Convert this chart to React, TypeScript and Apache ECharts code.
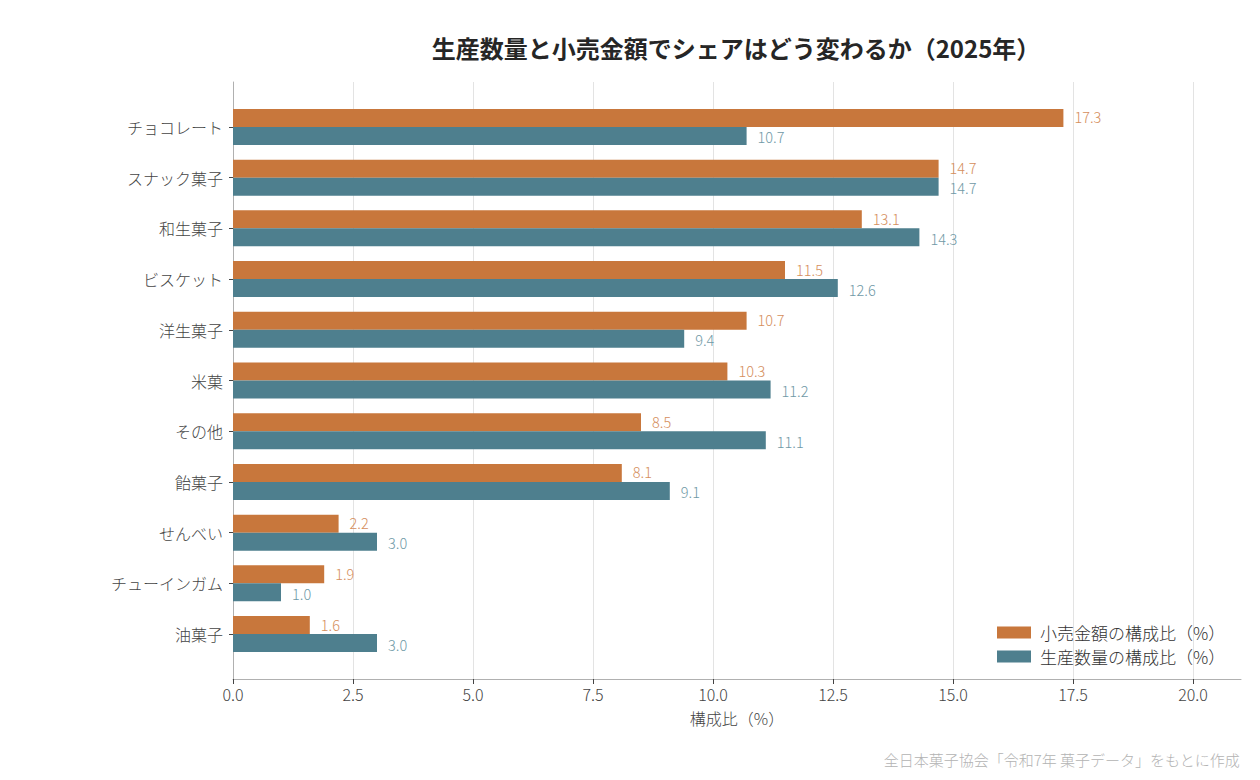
import React, { useEffect, useRef } from "react";
import * as echarts from "echarts";

const categories = [
  "チョコレート",
  "スナック菓子",
  "和生菓子",
  "ビスケット",
  "洋生菓子",
  "米菓",
  "その他",
  "飴菓子",
  "せんべい",
  "チューインガム",
  "油菓子",
];
const retailShare = [17.3, 14.7, 13.1, 11.5, 10.7, 10.3, 8.5, 8.1, 2.2, 1.9, 1.6];
const productionShare = [10.7, 14.7, 14.3, 12.6, 9.4, 11.2, 11.1, 9.1, 3.0, 1.0, 3.0];
const xTicks = [0, 2.5, 5, 7.5, 10, 12.5, 15, 17.5, 20];

const FONT = '"Noto Sans CJK JP", "Noto Sans", sans-serif';
const ORANGE = "#C8773C";
const TEAL = "#4E7F8E";

export default function App() {
  const ref = useRef<HTMLDivElement>(null);
  useEffect(() => {
    if (!ref.current) return;
    const chart = echarts.init(ref.current, null, { renderer: "svg" });
    chart.setOption({
      animation: false,
      textStyle: { fontFamily: FONT },
      title: {
        text: "生産数量と小売金額でシェアはどう変わるか（2025年）",
        left: 731,
        top: 30,
        textAlign: "center",
        textStyle: { fontFamily: FONT, fontSize: 24, fontWeight: "bold", color: "#262626" },
      },
      legend: {
        orient: "vertical",
        left: 992,
        top: 619,
        itemWidth: 34,
        itemHeight: 12,
        itemGap: 7,
        icon: "rect",
        textStyle: { fontFamily: FONT, fontSize: 17, fontWeight: 300, color: "#333", padding: [0, 0, 0, 4] },
        data: ["小売金額の構成比（%）", "生産数量の構成比（%）"],
      },
      graphic: [
        {
          type: "text",
          right: 20,
          bottom: 13,
          style: {
            text: "全日本菓子協会「令和7年 菓子データ」をもとに作成",
            fontFamily: FONT,
            fontSize: 15,
            fontWeight: 300,
            fill: "#b3b3b3",
          },
        },
      ],
      grid: [
        { left: 233, right: 19, top: 101.6, bottom: 120.6 },
        { left: 233, right: 19, top: 82, bottom: 101 },
      ],
      xAxis: [
        {
          gridIndex: 0,
          type: "value",
          min: 0,
          max: 21,
          show: false,
        },
        {
          gridIndex: 1,
          type: "value",
          min: 0,
          max: 21,
          interval: 2.5,
          name: "構成比（%）",
          nameLocation: "middle",
          nameGap: 31,
          nameTextStyle: { fontFamily: FONT, fontSize: 16, fontWeight: 300, color: "#444" },
          axisLine: { show: true, lineStyle: { color: "#b0b0b0", width: 1 } },
          axisTick: { show: true, length: 5, lineStyle: { color: "#444" }, customValues: xTicks },
          axisLabel: {
            fontFamily: FONT,
            fontSize: 16,
            fontWeight: 300,
            color: "#444",
            margin: 7,
            customValues: xTicks,
            formatter: (v: number) => v.toFixed(1),
          },
          splitLine: { show: true, lineStyle: { color: "#e3e3e3", width: 1 } },
        },
      ],
      yAxis: [
        {
          gridIndex: 0,
          type: "category",
          data: categories,
          inverse: true,
          axisLine: { show: false },
          axisTick: { show: true, alignWithLabel: true, length: 4, lineStyle: { color: "#444" } },
          axisLabel: { fontFamily: FONT, fontSize: 16, fontWeight: 300, color: "#444", margin: 10 },
          splitLine: { show: false },
        },
        {
          gridIndex: 1,
          type: "value",
          min: 0,
          max: 1,
          axisLine: { show: true, lineStyle: { color: "#b0b0b0", width: 1 } },
          axisTick: { show: false },
          axisLabel: { show: false },
          splitLine: { show: false },
        },
      ],
      series: [
        {
          name: "小売金額の構成比（%）",
          type: "bar",
          xAxisIndex: 0,
          yAxisIndex: 0,
          data: retailShare,
          barWidth: 18,
          barGap: "0%",
          itemStyle: { color: ORANGE },
          label: {
            show: true,
            position: "right",
            distance: 11,
            offset: [0, -1],
            fontFamily: FONT,
            fontSize: 14.5,
            lineHeight: 15,
            fontWeight: 300,
            color: "#D58E5C",
            formatter: (p: any) => Number(p.value).toFixed(1),
          },
        },
        {
          name: "生産数量の構成比（%）",
          type: "bar",
          xAxisIndex: 0,
          yAxisIndex: 0,
          data: productionShare,
          barWidth: 18,
          barGap: "0%",
          itemStyle: { color: TEAL },
          label: {
            show: true,
            position: "right",
            distance: 11,
            offset: [0, 1],
            fontFamily: FONT,
            fontSize: 14.5,
            lineHeight: 15,
            fontWeight: 300,
            color: "#6F99A6",
            formatter: (p: any) => Number(p.value).toFixed(1),
          },
        },
      ],
    });
    return () => chart.dispose();
  }, []);
  return <div ref={ref} style={{ width: 1260, height: 780, margin: -8 }} />;
}
